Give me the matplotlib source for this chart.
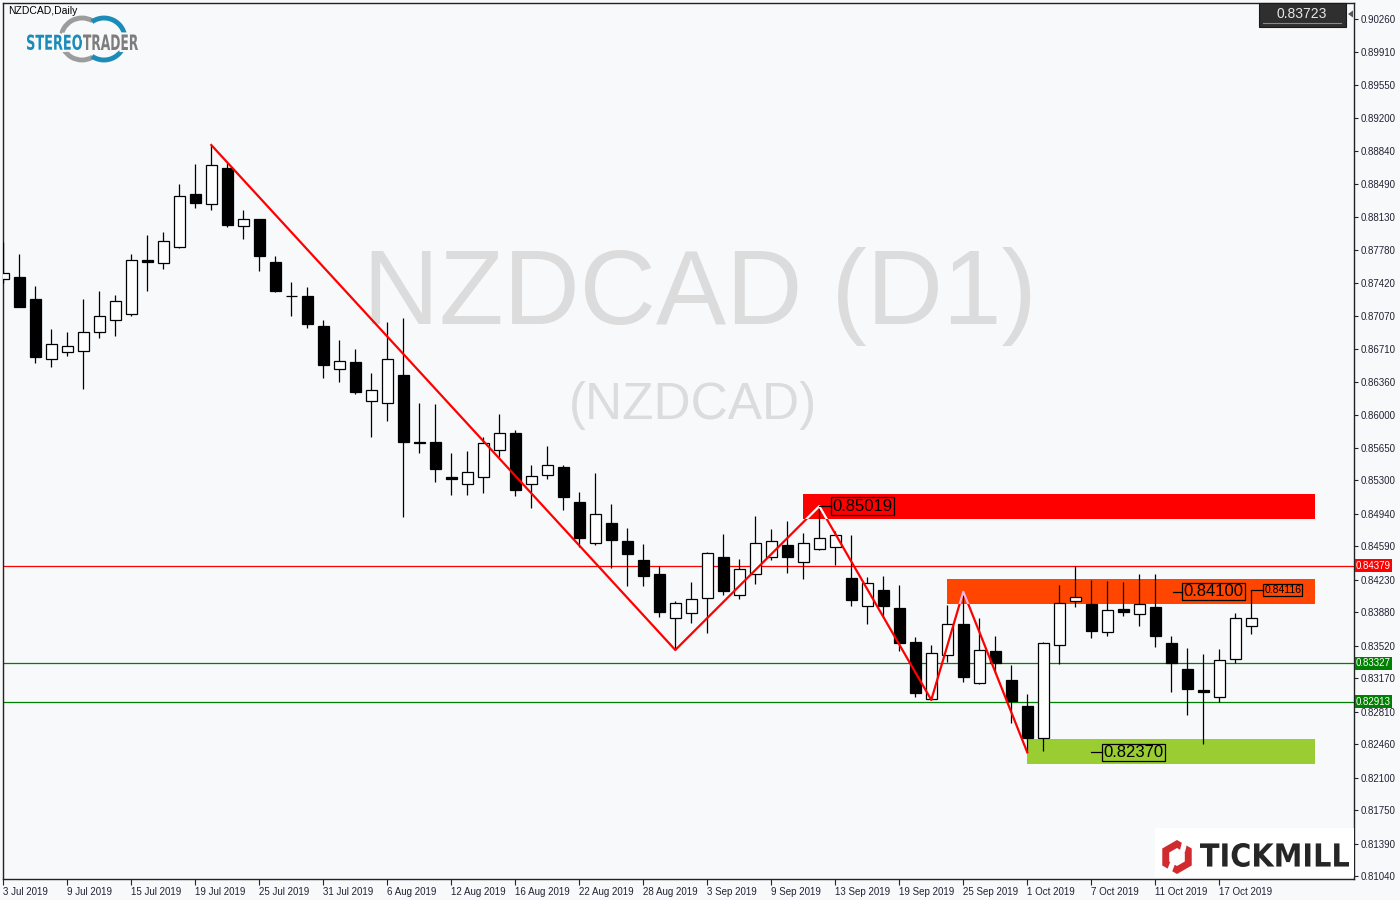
import matplotlib
matplotlib.use("Agg")
import matplotlib.pyplot as plt
import matplotlib.transforms as mtransforms
from matplotlib.patches import Rectangle, Arc, RegularPolygon, Polygon, PathPatch
from matplotlib.textpath import TextPath
from matplotlib.font_manager import FontProperties
from matplotlib.transforms import Affine2D
import matplotlib.patheffects as pe

# ---------------- data ----------------
opens = [0.87460, 0.87484, 0.87248, 0.86599, 0.86674, 0.86685, 0.86896, 0.87019, 0.87083, 0.87671,
         0.87632, 0.87810, 0.88377, 0.88267, 0.88657, 0.88030, 0.88108, 0.87643, 0.87279, 0.87280,
         0.86957, 0.86492, 0.86570, 0.86147, 0.86126, 0.86427, 0.85706, 0.85706, 0.85330, 0.85261,
         0.85336, 0.85620, 0.85806, 0.85254, 0.85358, 0.85437, 0.85061, 0.84620, 0.84835, 0.84641,
         0.84437, 0.84286, 0.83813, 0.83867, 0.84028, 0.84469, 0.84060, 0.84289, 0.84469, 0.84601,
         0.84415, 0.84555, 0.84585, 0.84246, 0.83948, 0.84117, 0.83924, 0.83558, 0.82941, 0.83415,
         0.83751, 0.83114, 0.83458, 0.83149, 0.82866, 0.82528, 0.83522, 0.83996, 0.83967, 0.83669,
         0.83913, 0.83856, 0.83934, 0.83544, 0.83264, 0.83038, 0.82969, 0.83378, 0.83727]
highs = [0.87864, 0.87732, 0.87388, 0.86925, 0.86893, 0.87248, 0.87334, 0.87291, 0.87732, 0.87936,
         0.87969, 0.88485, 0.88700, 0.88904, 0.88714, 0.88205, 0.88112, 0.87710, 0.87431, 0.87377,
         0.87022, 0.86807, 0.86710, 0.86452, 0.87000, 0.87040, 0.86126, 0.86118, 0.85588, 0.85613,
         0.85760, 0.86011, 0.85839, 0.85462, 0.85666, 0.85462, 0.85172, 0.85373, 0.85042, 0.84781,
         0.84612, 0.84379, 0.83999, 0.84203, 0.84529, 0.84716, 0.84448, 0.84913, 0.84773, 0.84860,
         0.84727, 0.85019, 0.84755, 0.84709, 0.84257, 0.84265, 0.84168, 0.83612, 0.83526, 0.83959,
         0.84100, 0.83816, 0.83622, 0.83310, 0.82998, 0.83555, 0.84168, 0.84375, 0.84225, 0.84214,
         0.84203, 0.84286, 0.84286, 0.83619, 0.83490, 0.83429, 0.83479, 0.83867, 0.84116]
lows = [0.87417, 0.87162, 0.86563, 0.86519, 0.86638, 0.86283, 0.86831, 0.86853, 0.87068, 0.87337,
        0.87574, 0.87800, 0.88230, 0.88205, 0.88026, 0.87897, 0.87552, 0.87323, 0.87068, 0.86939,
        0.86401, 0.86358, 0.86229, 0.85763, 0.85939, 0.84899, 0.85588, 0.85282, 0.85139, 0.85139,
        0.85164, 0.85551, 0.85128, 0.84996, 0.85315, 0.84978, 0.84583, 0.84598, 0.84357, 0.84163,
        0.84163, 0.83830, 0.83472, 0.83759, 0.83651, 0.84063, 0.84024, 0.84179, 0.84437, 0.84303,
        0.84239, 0.84545, 0.84386, 0.83948, 0.83755, 0.83830, 0.83464, 0.82969, 0.82935, 0.83346,
        0.83131, 0.83108, 0.83221, 0.82690, 0.82370, 0.82380, 0.83318, 0.83938, 0.83604, 0.83626,
        0.83841, 0.83733, 0.83507, 0.83023, 0.82776, 0.82464, 0.82912, 0.83335, 0.83647]
closes = [0.87524, 0.87165, 0.86627, 0.86760, 0.86739, 0.86890, 0.87062, 0.87223, 0.87664, 0.87649,
          0.87869, 0.88353, 0.88284, 0.88686, 0.88047, 0.88105, 0.87714, 0.87337, 0.87277, 0.86976,
          0.86541, 0.86581, 0.86251, 0.86269, 0.86599, 0.85713, 0.85702, 0.85422, 0.85308, 0.85383,
          0.85695, 0.85803, 0.85196, 0.85347, 0.85459, 0.85121, 0.84680, 0.84932, 0.84658, 0.84501,
          0.84271, 0.83884, 0.83974, 0.84017, 0.84512, 0.84103, 0.84340, 0.84620, 0.84641, 0.84469,
          0.84620, 0.84673, 0.84706, 0.84013, 0.84189, 0.83948, 0.83550, 0.83012, 0.83436, 0.83748,
          0.83185, 0.83469, 0.83335, 0.82926, 0.82528, 0.83544, 0.83974, 0.84039, 0.83679, 0.83899,
          0.83877, 0.83963, 0.83626, 0.83332, 0.83055, 0.83017, 0.83361, 0.83813, 0.83813]

date_labels = ["3 Jul 2019", "9 Jul 2019", "15 Jul 2019", "19 Jul 2019", "25 Jul 2019",
               "31 Jul 2019", "6 Aug 2019", "12 Aug 2019", "16 Aug 2019", "22 Aug 2019",
               "28 Aug 2019", "3 Sep 2019", "9 Sep 2019", "13 Sep 2019", "19 Sep 2019",
               "25 Sep 2019", "1 Oct 2019", "7 Oct 2019", "11 Oct 2019", "17 Oct 2019"]
date_tick_bars = [0, 4, 8, 12, 16, 20, 24, 28, 32, 36, 40, 44, 48, 52, 56, 60, 64, 68, 72, 76]

price_ticks = [0.90260, 0.89910, 0.89550, 0.89200, 0.88840, 0.88490, 0.88130, 0.87780, 0.87420,
               0.87070, 0.86710, 0.86360, 0.86000, 0.85650, 0.85300, 0.84940, 0.84590, 0.84230,
               0.83880, 0.83520, 0.83170, 0.82810, 0.82460, 0.82100, 0.81750, 0.81390, 0.81040]

zigzag_bars = [13, 42, 51, 58, 60, 64]
zigzag_prices = [0.88904, 0.83472, 0.85019, 0.82935, 0.84100, 0.82370]

zone_start_bars = [50, 59, 64]
zone_end_bar = 82
zone_lows = [0.84884, 0.83967, 0.82249]
zone_highs = [0.85150, 0.84236, 0.82514]
zone_colors = ["#ff0000", "#ff4500", "#9acd32"]

hlines = [0.84379, 0.83327, 0.82913]
hline_colors = ["#ff0000", "#008000", "#008000"]

# price labels: (connector start bar, box start bar, price, text, fontsize)
price_labels = [(51.0, 51.71, 0.85019, "0.85019", 12),
                (73.09, 73.67, 0.84100, "0.84100", 12),
                (68.0, 68.67, 0.82370, "0.82370", 12),
                (78.0, 78.71, 0.84116, "0.84116", 7.5)]

current_price = "0.83723"

BG = "#f8f9fb"
FONT = ["Liberation Sans", "DejaVu Sans"]
plt.rcParams["font.family"] = FONT

fig = plt.figure(figsize=(14, 9), dpi=100, facecolor=BG)
ax = fig.add_axes([3 / 1400, 1 - 879 / 900, 1351 / 1400, 876 / 900])
ax.set_facecolor(BG)
ax.set_xlim(-0.02, 84.42)
ax.set_ylim(0.810081, 0.904321)

# watermark
ax.text(0.516, 0.665, "NZDCAD (D1)", transform=ax.transAxes, ha="center", va="center",
        fontsize=76, color="#dcdcdc", zorder=0.5)
ax.text(0.511, 0.541, "(NZDCAD)", transform=ax.transAxes, ha="center", va="center",
        fontsize=37, color="#dcdcdc", zorder=0.5)

# zones
zone_patches = []
for s, lo, hi, c in zip(zone_start_bars, zone_lows, zone_highs, zone_colors):
    r = Rectangle((s, lo), zone_end_bar - s, hi - lo, facecolor=c, edgecolor="none", zorder=1)
    ax.add_patch(r)
    zone_patches.append(r)

# horizontal lines
for v, c in zip(hlines, hline_colors):
    ax.axhline(v, color=c, lw=0.9, zorder=1.5)

# candles
xs = list(range(len(opens)))
ax.vlines(xs, lows, highs, color="black", lw=0.9, zorder=3)
bottoms = [min(o, c) for o, c in zip(opens, closes)]
heights = [max(abs(c - o), 0.00002) for o, c in zip(opens, closes)]
fcs = ["white" if c > o else "black" for o, c in zip(opens, closes)]
ax.bar(xs, heights, bottom=bottoms, width=0.68, color=fcs, edgecolor="black", linewidth=0.9, zorder=4)

# zigzag
ax.plot(zigzag_bars, zigzag_prices, color="#ff0000", lw=1.6, zorder=5)
ln1, = ax.plot(zigzag_bars, zigzag_prices, color="white", lw=1.6, zorder=5.1)
ln1.set_clip_path(zone_patches[0])
ln2, = ax.plot(zigzag_bars, zigzag_prices, color="#f4b4e4", lw=1.6, zorder=5.1)
ln2.set_clip_path(zone_patches[1])

# price labels with connectors
for x0, xb, p, t, fs in price_labels:
    ax.plot([x0, xb], [p, p], color="black", lw=0.9, zorder=6)
    ax.text(xb + 0.1, p, t, ha="left", va="center", fontsize=fs, color="black", zorder=6,
            bbox=dict(boxstyle="square,pad=0.08", fc="none", ec="black", lw=0.9))

# axes styling
for sp in ax.spines.values():
    sp.set_color("#222222")
    sp.set_linewidth(1.0)
ax.yaxis.tick_right()
ax.set_yticks(price_ticks)
ax.set_yticklabels([f"{v:.5f}" for v in price_ticks])
ax.tick_params(axis="y", labelsize=7, length=3, pad=2, colors="#222233", width=0.8)
ax.set_xticks(date_tick_bars)
ax.set_xticklabels(date_labels)
for lbl in ax.get_xticklabels():
    lbl.set_ha("left")
ax.tick_params(axis="x", labelsize=7, length=4, pad=1.5, colors="#222233", width=0.8)

# right axis coloured price tags
blend = mtransforms.blended_transform_factory(ax.transAxes, ax.transData)
for v, c in zip(hlines, hline_colors):
    ax.text(1.0015, v, f"{v:.5f}", transform=blend, ha="left", va="center", fontsize=7,
            color="white", zorder=10, clip_on=False,
            bbox=dict(boxstyle="square,pad=0.15", fc=c, ec="none"))

# ---------------- overlay decorations (pixel coords) ----------------
ov = fig.add_axes([0, 0, 1, 1], zorder=20)
ov.set_xlim(0, 1400)
ov.set_ylim(900, 0)
ov.axis("off")
ov.patch.set_alpha(0)

ov.text(8, 11, "NZDCAD,Daily", fontsize=7.5, color="black", va="center", ha="left")


def path_text(s, x0, y_base, width, height, color, weight="bold", family="DejaVu Sans", stroke=None):
    tp = TextPath((0, 0), s, size=100, prop=FontProperties(family=family, weight=weight))
    bb = tp.get_extents()
    sx = width / bb.width
    sy = height / bb.height
    tr = Affine2D().translate(-bb.x0, -bb.y0).scale(sx, -sy).translate(x0, y_base)
    patch = PathPatch(tr.transform_path(tp), fc=color, ec="none", zorder=22)
    if stroke:
        patch.set_path_effects([pe.Stroke(linewidth=3, foreground=stroke), pe.Normal()])
    ov.add_patch(patch)


# StereoTrader logo
ov.add_patch(Arc((82, 39), 42, 42, theta1=60, theta2=300, color="#9c9c9c", lw=3.5, zorder=21))
ov.add_patch(Arc((104, 39), 42, 42, theta1=-125, theta2=125, color="#1b8bb8", lw=3.5, zorder=21))
path_text("STEREO", 27, 50, 55, 15.5, "#1b8bb8", stroke=BG)
path_text("TRADER", 83, 50, 55, 15.5, "#7d7d7d", stroke=BG)

# Tickmill logo
ov.add_patch(Rectangle((1155, 828), 199, 49, fc="white", ec="none", zorder=21))
ov.add_patch(RegularPolygon((1177, 857), 6, radius=17, orientation=0, fc="#d02b2f", ec="none", zorder=22))
ov.add_patch(RegularPolygon((1177, 857), 6, radius=9, orientation=0, fc="white", ec="none", zorder=23))
ov.add_patch(Polygon([(1183, 838), (1189, 836), (1185, 852), (1179, 854)], closed=True,
                     fc="white", ec="none", zorder=23))
ov.add_patch(Polygon([(1171, 860), (1177, 859), (1170, 877), (1164, 878)], closed=True,
                     fc="white", ec="none", zorder=23))
path_text("TICKMILL", 1200, 867, 149, 24, "#262626", weight="bold")

# current price box
ov.add_patch(Rectangle((1259, 3), 87, 24, fc="#2f2f2f", ec="#1a1a1a", lw=0.8, zorder=21))
ov.plot([1263, 1341], [23, 23], color="#8a8a8a", lw=0.8, zorder=22)
ov.text(1302, 13.5, current_price, ha="center", va="center", fontsize=10, color="#e6e6e6", zorder=22)
ov.add_patch(Polygon([(1348, 14), (1353, 10.5), (1353, 17.5)], closed=True, fc="#555555", ec="none", zorder=22))

fig.savefig("out.png", dpi=100, facecolor=BG)
